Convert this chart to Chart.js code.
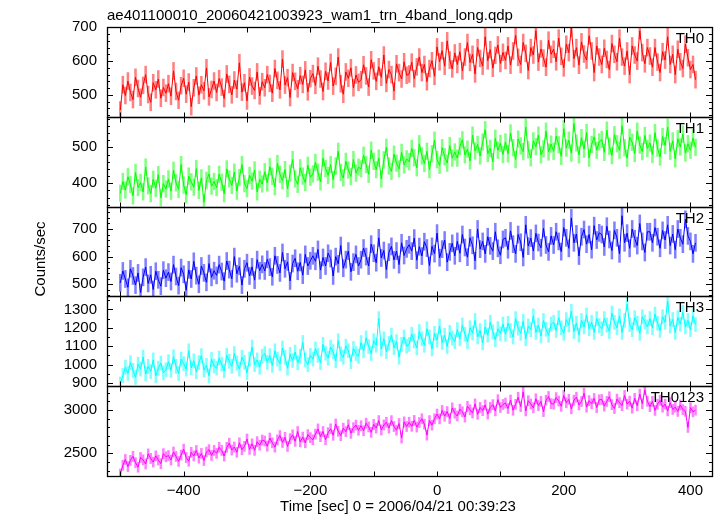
<!DOCTYPE html>
<html>
<head>
<meta charset="utf-8">
<script src="https://cdn.jsdelivr.net/npm/chart.js@4.4.1/dist/chart.umd.min.js"></script>
<style>
  html, body { margin: 0; padding: 0; background: #fff; }
</style>
</head>
<body>
<canvas id="myChart" width="717" height="516"></canvas>
<script>
// Light curves, one bin every 4 sec from -500 sec
var tStart = -500;
var tStep = 4;

var th0 = [
  455, 530, 498, 541, 507, 486, 552, 519, 493, 528, 560, 501, 478, 536, 515, 547, 490, 522, 505,
  533, 496, 571, 510, 484, 527, 549, 502, 538, 465, 521, 556, 499, 530, 512, 580, 494, 516, 541,
  507, 548, 523, 489, 562, 531, 500, 544, 517, 595, 508, 536, 482, 553, 526, 513, 568, 497, 539,
  521, 560, 534, 505, 578, 543, 515, 606, 529, 551, 492, 566, 540, 518, 557, 531, 574, 509, 548,
  563, 528, 585, 547, 510, 570, 541, 596, 526, 555, 612, 533, 502, 568, 549, 580, 521, 559, 537,
  545, 589, 556, 523, 604, 571, 540, 583, 552, 618, 534, 575, 560, 511, 592, 566, 547, 598, 558,
  562, 597, 548, 583, 612, 566, 590, 539, 578, 601, 555, 642, 598, 631, 585, 660, 603, 577, 624,
  590, 628, 571, 612, 655, 596, 620, 562, 640, 608, 585, 672, 601, 634, 579, 617, 648, 593, 626,
  602, 645, 588, 630, 676, 611, 590, 655, 623, 572, 640, 618, 690, 597, 636, 609, 582, 662, 620,
  635, 598, 668, 614, 580, 650, 625, 698, 607, 640, 588, 657, 621, 603, 675, 630, 566, 645, 612,
  590, 638, 605, 575, 652, 620, 598, 668, 612, 585, 630, 560, 645, 618, 600, 690, 625, 592, 640,
  615, 582, 640, 597, 566, 628, 603, 672, 590, 620, 560, 635, 598, 578, 650, 610, 575, 590, 545
];

var th1 = [
  372, 405, 381, 418, 396, 365, 430, 388, 402, 376, 445, 393, 371, 411, 386, 424, 359, 399, 384,
  412, 378, 436, 401, 383, 452, 395, 368, 420, 404, 389, 441, 380, 415, 347, 408, 426, 392, 405,
  388, 425, 403, 371, 440, 412, 394, 431, 378, 416, 452, 399, 385, 422, 406, 437, 376, 411, 398,
  432, 401, 446, 419, 390, 455, 425, 407, 438, 385, 428, 466, 412, 397, 443, 420, 402, 450, 417,
  426, 458, 431, 404, 470, 441, 422, 452, 410, 448, 489, 430, 415, 461, 437, 419, 466, 428, 445,
  440, 478, 452, 425, 492, 461, 438, 470, 412, 465, 500, 448, 433, 481, 456, 440, 486, 451, 468,
  460, 497, 471, 443, 510, 476, 455, 489, 438, 482, 520, 466, 450, 499, 474, 456, 505, 470, 487,
  470, 503, 521, 479, 495, 462, 534, 490, 508, 476, 515, 549, 483, 497, 460, 525, 492, 511, 480,
  515, 482, 540, 499, 466, 523, 504, 488, 556, 493, 471, 518, 502, 534, 479, 496, 545, 487, 509,
  489, 531, 507, 475, 552, 498, 520, 484, 566, 512, 479, 527, 495, 541, 470, 508, 529, 492, 515,
  522, 486, 548, 503, 477, 535, 510, 492, 560, 499, 470, 528, 514, 483, 545, 506, 488, 533, 497,
  512, 480, 541, 498, 473, 530, 505, 556, 489, 518, 468, 524, 501, 537, 484, 510, 492, 526, 500
];

var th2 = [
  505, 548, 519, 489, 556, 530, 497, 541, 470, 525, 562, 503, 534, 481, 547, 516, 493, 551, 522,
  544, 510, 571, 528, 495, 560, 536, 478, 552, 519, 583, 531, 500, 566, 541, 507, 575, 525, 549,
  532, 571, 546, 511, 584, 553, 520, 600, 538, 565, 497, 556, 578, 530, 563, 515, 589, 549, 572,
  548, 590, 562, 527, 603, 570, 541, 615, 556, 581, 512, 575, 594, 547, 579, 533, 608, 566, 585,
  603, 583, 626, 551, 597, 566, 612, 593, 530, 600, 574, 640, 558, 589, 620, 545, 580, 608, 566,
  589, 631, 600, 566, 645, 612, 578, 668, 595, 622, 553, 616, 637, 588, 620, 571, 650, 604, 628,
  643, 620, 667, 587, 636, 602, 654, 631, 568, 637, 611, 685, 596, 627, 660, 580, 617, 648, 603,
  655, 612, 680, 633, 598, 668, 641, 585, 700, 627, 655, 610, 672, 639, 620, 690, 630, 605, 662,
  668, 625, 693, 645, 610, 680, 652, 597, 715, 638, 667, 620, 684, 651, 632, 702, 642, 617, 675,
  642, 690, 655, 618, 705, 668, 630, 740, 650, 682, 602, 672, 698, 645, 680, 625, 712, 660, 686,
  680, 635, 710, 662, 622, 695, 668, 610, 748, 650, 685, 630, 700, 665, 640, 720, 655, 615, 690,
  690, 650, 705, 672, 630, 695, 660, 715, 640, 682, 625, 700, 668, 645, 735, 675, 655, 610, 650
];

var th3 = [
  895, 940, 985, 952, 1010, 968, 930, 1002, 975, 1040, 948, 990, 962, 1025, 938, 980, 1008, 955, 972,
  1015, 968, 1042, 990, 951, 1030, 1005, 975, 1075, 982, 1020, 960, 1010, 1048, 970, 996, 938, 1028, 992,
  980, 1035, 1002, 965, 1050, 1018, 990, 1060, 1008, 975, 1040, 1012, 955, 1030, 1095, 1000, 1025, 985, 1045,
  1060, 1012, 1048, 995, 1075, 1030, 1005, 1090, 1040, 980, 1055, 1022, 1068, 1010, 1045, 1120, 1025, 1000, 1050,
  1030, 1085, 1050, 1010, 1110, 1062, 1035, 1095, 1070, 1020, 1130, 1058, 1040, 1100, 1075, 1015, 1088, 1060, 1045,
  1120, 1075, 1145, 1098, 1060, 1130, 1105, 1250, 1085, 1140, 1070, 1115, 1160, 1092, 1125, 1040, 1110, 1150, 1100,
  1110, 1165, 1128, 1090, 1180, 1140, 1105, 1195, 1150, 1085, 1170, 1132, 1210, 1120, 1160, 1098, 1175, 1145, 1125,
  1190, 1140, 1215, 1165, 1125, 1200, 1172, 1240, 1150, 1185, 1118, 1205, 1160, 1230, 1178, 1135, 1195, 1168, 1220,
  1165, 1225, 1185, 1150, 1250, 1198, 1170, 1235, 1140, 1210, 1190, 1265, 1175, 1215, 1155, 1240, 1192, 1160, 1220,
  1230, 1185, 1255, 1200, 1170, 1245, 1215, 1290, 1180, 1225, 1160, 1240, 1205, 1270, 1195, 1230, 1175, 1250, 1212,
  1195, 1250, 1215, 1180, 1280, 1230, 1200, 1265, 1175, 1240, 1330, 1218, 1190, 1255, 1225, 1170, 1260, 1232, 1205,
  1250, 1200, 1275, 1225, 1185, 1260, 1230, 1345, 1210, 1245, 1175, 1255, 1220, 1285, 1205, 1240, 1190, 1265, 1218
];

var th0123 = [
  2260, 2362, 2429, 2347, 2419, 2466, 2393, 2340, 2453, 2425, 2377, 2494, 2441, 2399, 2471, 2423, 2380, 2497, 2460,
  2475, 2423, 2516, 2464, 2407, 2480, 2548, 2451, 2409, 2512, 2470, 2533, 2446, 2499, 2417, 2515, 2543, 2476, 2534,
  2500, 2570, 2534, 2469, 2569, 2618, 2538, 2573, 2512, 2622, 2542, 2581, 2666, 2546, 2610, 2535, 2635, 2594, 2654,
  2643, 2583, 2677, 2622, 2572, 2656, 2706, 2626, 2685, 2580, 2669, 2714, 2639, 2753, 2633, 2688, 2622, 2717, 2682,
  2657, 2722, 2783, 2693, 2753, 2659, 2739, 2784, 2709, 2840, 2755, 2705, 2791, 2751, 2831, 2732, 2797, 2827, 2767,
  2820, 2762, 2849, 2806, 2743, 2835, 2792, 2879, 2771, 2828, 2860, 2792, 2879, 2811, 2768, 2845, 2677, 2864, 2811,
  2860, 2813, 2881, 2804, 2857, 2900, 2838, 2711, 2879, 2827, 2900, 2955, 2899, 2997, 2931, 2984, 2903, 3026, 2965,
  2932, 3011, 2981, 2920, 3044, 3004, 2968, 3072, 2952, 3031, 2995, 3060, 2954, 3033, 3063, 2992, 3121, 3031, 3065,
  3082, 3019, 3117, 2999, 3067, 3149, 3041, 3210, 2991, 3109, 3071, 3028, 3131, 3053, 3101, 2983, 3115, 3158, 3075,
  3070, 3145, 3105, 3045, 3170, 3085, 3125, 3015, 3115, 3150, 3060, 3100, 3195, 3035, 3110, 3075, 3135, 3030, 3120,
  3123, 3047, 3101, 3155, 3064, 3019, 3128, 3087, 3052, 3170, 3070, 3104, 3023, 3137, 3051, 3185, 3074, 3235, 3102,
  3040, 3101, 2997, 3068, 3114, 3035, 3070, 2991, 3087, 3008, 3034, 2985, 3060, 3006, 2987, 2800, 3029, 2980, 3000
];

var bandValues = [th0, th1, th2, th3, th0123];
var bandNames = ['TH0', 'TH1', 'TH2', 'TH3', 'TH0123'];
var bandErrors = [26, 24, 32, 40, 62];

// axis ranges and tick labels
var yMin = [435, 335, 456, 882, 2238];
var yMax = [701, 585, 781, 1371, 3277];
var yLabels = [[500, 600, 700], [400, 500], [500, 600, 700], [900, 1000, 1100, 1200, 1300], [2500, 3000]];
var xLabels = [-400, -200, 0, 200, 400];

var lineColors = ['#ff0000', '#00ff00', '#0000ff', '#00ffff', '#ff00ff'];
var errColors = ['#ff8080', '#80ff80', '#8080ff', '#80ffff', '#ff80ff'];
var yMinorStep = [20, 20, 20, 50, 100];
var xMinorStep = 100;
var fontName = '"Liberation Sans", Arial, Helvetica, sans-serif';

var plotTitle = 'ae401100010_20060421003923_wam1_trn_4band_long.qdp';
var xTitle = 'Time [sec] 0 = 2006/04/21 00:39:23';
var yTitle = 'Counts/sec';

var times = [];
for (var i = 0; i < th0.length; i++) times.push(tStart + i * tStep);

function toPoints(values){
    return values.map(function(v, i){ return {x: times[i], y: v}; });
}

function tickText(v){
    return String(v).replace('-', '\u2212');
}

// error boxes, frames, ticks and labels drawn in qdp style
var qdpPlugin = {
    id: 'qdpPlugin',
    beforeDatasetsDraw: function(chart){
        var ctx = chart.ctx;
        var area = chart.chartArea;
        var xs = chart.scales.x;
        for (var p = 0; p < 5; p++) {
            var ys = chart.scales['y' + p];
            ctx.save();
            ctx.beginPath();
            ctx.rect(area.left, ys.top, area.right - area.left, ys.bottom - ys.top);
            ctx.clip();
            ctx.fillStyle = errColors[p];
            var vals = bandValues[p];
            for (var j = 0; j < vals.length; j++) {
                var x1 = xs.getPixelForValue(times[j] - tStep / 2);
                var x2 = xs.getPixelForValue(times[j] + tStep / 2);
                var y1 = ys.getPixelForValue(vals[j] + bandErrors[p]);
                var y2 = ys.getPixelForValue(vals[j] - bandErrors[p]);
                ctx.fillRect(x1, y1, x2 - x1, y2 - y1);
            }
            ctx.restore();
        }
    },
    afterDraw: function(chart){
        var ctx = chart.ctx;
        var area = chart.chartArea;
        var xs = chart.scales.x;
        ctx.save();
        ctx.strokeStyle = '#000';
        ctx.fillStyle = '#000';
        for (var p = 0; p < 5; p++) {
            var ys = chart.scales['y' + p];
            var top = Math.round(ys.top) + 0.5;
            var bot = Math.round(ys.bottom) + 0.5;
            ctx.lineWidth = 1.3;
            ctx.strokeRect(area.left + 0.5, top, area.right - area.left, bot - top);
            ctx.lineWidth = 1;
            ctx.beginPath();
            for (var t = tStart; t <= 400; t += xMinorStep) {
                var px = Math.round(xs.getPixelForValue(t)) + 0.5;
                ctx.moveTo(px, top); ctx.lineTo(px, top + 5);
                ctx.moveTo(px, bot); ctx.lineTo(px, bot - 5);
            }
            var step = yMinorStep[p];
            for (var v = Math.ceil(yMin[p] / step) * step; v <= yMax[p]; v += step) {
                var py = Math.round(ys.getPixelForValue(v)) + 0.5;
                var len = yLabels[p].indexOf(v) >= 0 ? 6 : 3;
                ctx.moveTo(area.left, py); ctx.lineTo(area.left + len, py);
                ctx.moveTo(area.right, py); ctx.lineTo(area.right - len, py);
            }
            ctx.stroke();

            ctx.font = '15px ' + fontName;
            ctx.textAlign = 'right';
            ctx.textBaseline = 'alphabetic';
            ctx.fillText(bandNames[p], 704, ys.top + 16);
        }

        ctx.font = '15px ' + fontName;
        ctx.textAlign = 'left';
        ctx.fillText(plotTitle, area.left, 20);

        ctx.textAlign = 'center';
        ctx.fillText(xTitle, 398, 511);

        ctx.translate(41, 259);
        ctx.rotate(-Math.PI / 2);
        ctx.textBaseline = 'middle';
        ctx.fillText(yTitle, 0, 0);
        ctx.restore();
    }
};

function buildScales(){
    var scales = {
        x: {
            type: 'linear',
            min: -521,
            max: 434,
            grid: { display: false, drawTicks: false },
            border: { display: false },
            ticks: { color: '#000', padding: 6, autoSkip: false, maxRotation: 0, font: { size: 15 }, callback: tickText },
            afterBuildTicks: function(s){ s.ticks = xLabels.map(function(v){ return {value: v}; }); },
            afterFit: function(s){ s.height = 40; }
        }
    };
    // bottom panel first, top panel last so it is stacked on top
    for (var p = 4; p >= 0; p--) {
        (function(p){
            scales['y' + p] = {
                type: 'linear',
                position: 'left',
                stack: 'bands',
                stackWeight: 1,
                min: yMin[p],
                max: yMax[p],
                grid: { display: false, drawTicks: false },
                border: { display: false },
                ticks: { color: '#000', padding: 10, autoSkip: false, font: { size: 15 }, callback: tickText },
                afterBuildTicks: function(s){ s.ticks = yLabels[p].map(function(v){ return {value: v}; }); },
                afterFit: function(s){ s.width = 107; }
            };
        })(p);
    }
    return scales;
}

function buildDatasets(){
    var sets = [];
    for (var p = 0; p < 5; p++) {
        sets.push({
            label: bandNames[p],
            data: toPoints(bandValues[p]),
            yAxisID: 'y' + p,
            borderColor: lineColors[p],
            borderWidth: 1,
            pointRadius: 0,
            tension: 0,
            fill: false
        });
    }
    return sets;
}

Chart.defaults.font.family = fontName;
Chart.defaults.color = '#000';

var ctx = document.getElementById('myChart').getContext('2d');
var chart = new Chart(ctx, {
    type: 'line',
    data: { datasets: buildDatasets() },
    options: {
        responsive: false,
        animation: false,
        parsing: false,
        normalized: true,
        layout: { padding: { top: 27, right: 5, left: 0, bottom: 0 } },
        plugins: { legend: { display: false }, title: { display: false }, tooltip: { enabled: false } },
        scales: buildScales()
    },
    plugins: [qdpPlugin]
});
</script>
</body>
</html>
